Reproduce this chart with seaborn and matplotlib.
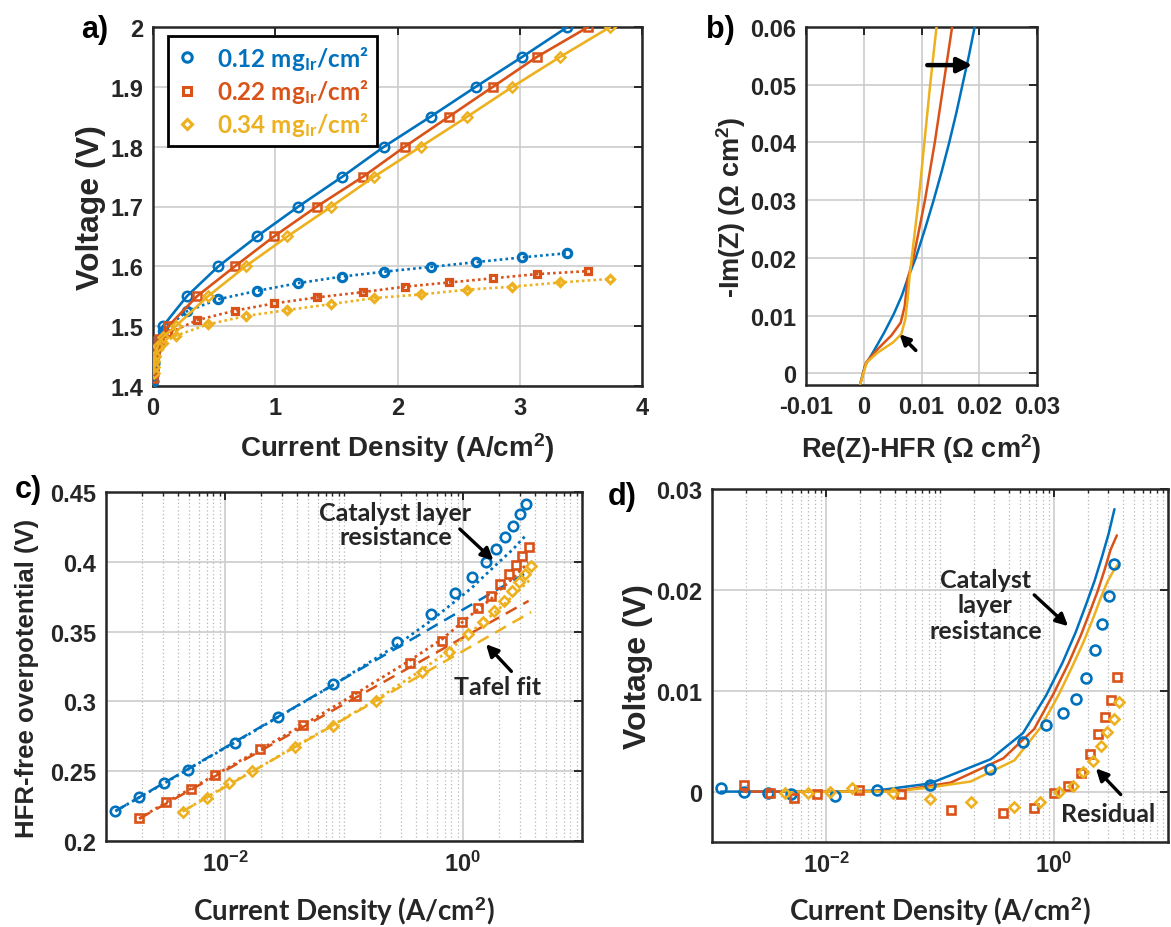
import matplotlib
matplotlib.use("Agg")
import matplotlib.pyplot as plt
import seaborn as sns
import pandas as pd
from matplotlib.lines import Line2D
from matplotlib.ticker import FixedLocator, FixedFormatter, LogLocator, NullFormatter

# ------------------------------------------------------------------ data
loadings = ["0.12", "0.22", "0.34"]
colors = ["#0072BD", "#D95319", "#EDB120"]
markers = ["o", "s", "D"]

# current densities (A/cm2), shared by panels a, c, d
j_012 = [0.0012, 0.0019, 0.0031, 0.0049, 0.0121, 0.0278, 0.0815, 0.277, 0.535,
         0.85, 1.19, 1.55, 1.89, 2.27, 2.64, 3.02, 3.39]
j_022 = [0.0019, 0.0032, 0.0052, 0.0083, 0.0196, 0.0455, 0.125, 0.36, 0.67,
         0.99, 1.34, 1.72, 2.06, 2.42, 2.78, 3.14, 3.56]
j_034 = [0.0044, 0.007, 0.0109, 0.0168, 0.0385, 0.081, 0.186, 0.45, 0.757,
         1.1, 1.46, 1.81, 2.19, 2.57, 2.94, 3.33, 3.74]

# panel a: cell voltage (solid) and lower curves (dotted)
v_cell_012 = [1.409, 1.418, 1.428, 1.438, 1.457, 1.476, 1.50, 1.55, 1.60, 1.65,
              1.70, 1.75, 1.80, 1.85, 1.90, 1.95, 2.00]
v_cell_022 = [1.413, 1.424, 1.433, 1.443, 1.462, 1.479, 1.50, 1.55, 1.60, 1.65,
              1.70, 1.75, 1.80, 1.85, 1.90, 1.95, 2.00]
v_cell_034 = [1.421, 1.431, 1.441, 1.450, 1.467, 1.482, 1.50, 1.55, 1.60, 1.65,
              1.70, 1.75, 1.80, 1.85, 1.90, 1.95, 2.00]
v_dot_012 = [1.409, 1.418, 1.428, 1.437, 1.455, 1.472, 1.492, 1.525, 1.545, 1.559,
             1.572, 1.583, 1.591, 1.599, 1.607, 1.615, 1.622]
v_dot_022 = [1.413, 1.424, 1.433, 1.442, 1.460, 1.474, 1.488, 1.510, 1.526, 1.538,
             1.548, 1.557, 1.566, 1.573, 1.580, 1.587, 1.592]
v_dot_034 = [1.421, 1.431, 1.440, 1.449, 1.462, 1.472, 1.484, 1.503, 1.517, 1.527,
             1.537, 1.547, 1.553, 1.561, 1.566, 1.573, 1.579]

# panel b: impedance (Re(Z)-HFR, -Im(Z))
re_012 = [-0.0006, 0.0002, 0.0018, 0.0035, 0.0052, 0.0066, 0.0076, 0.0090, 0.0106,
          0.0121, 0.0135, 0.0148, 0.0160, 0.0171, 0.0182, 0.0192]
im_012 = [-0.0018, 0.0013, 0.0040, 0.0070, 0.0103, 0.0135, 0.0164, 0.0200, 0.0250,
          0.0300, 0.0350, 0.0400, 0.0450, 0.0500, 0.0550, 0.0600]
re_022 = [-0.0006, 0.0004, 0.0024, 0.0048, 0.0064, 0.0071, 0.0076, 0.0086, 0.0106, 0.0123, 0.0138, 0.0153]
im_022 = [-0.0018, 0.0019, 0.0042, 0.0066, 0.0088, 0.0117, 0.0164, 0.0200, 0.0300, 0.0400, 0.0500, 0.0600]
re_034 = [-0.0006, 0.0005, 0.0024, 0.0051, 0.0065, 0.0072, 0.0076, 0.0079, 0.0083, 0.0095, 0.0105, 0.0115, 0.0126]
im_034 = [-0.0018, 0.0019, 0.0036, 0.0054, 0.0068, 0.0094, 0.0129, 0.0164, 0.0200, 0.0300, 0.0400, 0.0500, 0.0600]

# panel c: HFR-free overpotential (markers), model with CL resistance (dotted), Tafel fit (dashed)
eta_012 = [0.2217, 0.2312, 0.2412, 0.2512, 0.2702, 0.2888, 0.3126, 0.3424, 0.3626,
           0.3780, 0.3893, 0.4000, 0.4090, 0.4180, 0.4257, 0.4340, 0.4417]
eta_022 = [0.2167, 0.2276, 0.2369, 0.2471, 0.2657, 0.2829, 0.3036, 0.3274, 0.3431,
           0.3567, 0.3667, 0.3752, 0.3838, 0.3912, 0.3976, 0.4043, 0.4107]
eta_034 = [0.2210, 0.2310, 0.2412, 0.2500, 0.2674, 0.2824, 0.3002, 0.3210, 0.3352,
           0.3483, 0.3567, 0.3650, 0.3721, 0.3793, 0.3852, 0.3912, 0.3967]
model_012 = [0.2214, 0.2312, 0.2414, 0.2514, 0.2706, 0.2886, 0.3119, 0.3402, 0.3577,
             0.3714, 0.3815, 0.3908, 0.3977, 0.4040, 0.4091, 0.4146, 0.4191]
model_022 = [0.2160, 0.2278, 0.2376, 0.2474, 0.2655, 0.2832, 0.3054, 0.3295, 0.3447,
             0.3569, 0.3661, 0.3734, 0.3801, 0.3855, 0.3902, 0.3952, 0.3993]
model_034 = [0.2212, 0.2312, 0.2412, 0.2496, 0.2676, 0.2831, 0.3012, 0.3225, 0.3362,
             0.3483, 0.3561, 0.3631, 0.3691, 0.3748, 0.3793, 0.3840, 0.3878]
tafel_j_012, tafel_eta_012 = [0.0012, 3.39], [0.2214, 0.3920]
tafel_j_022, tafel_eta_022 = [0.0019, 3.56], [0.2160, 0.3720]
tafel_j_034, tafel_eta_034 = [0.0044, 3.74], [0.2212, 0.3640]

# panel d: residual (markers) and catalyst-layer-resistance contribution (lines)
resid_012 = [0.00033, 0.0, -0.00017, -0.0002, -0.00043, 0.00017, 0.00066, 0.0022, 0.0049,
             0.0066, 0.0078, 0.0092, 0.0113, 0.0140, 0.0166, 0.0194, 0.0226]
resid_022 = [0.00066, -0.00017, -0.00066, -0.00026, 0.00017, -0.00026, -0.0018, -0.0021, -0.0016,
             -0.00017, 0.0006, 0.0018, 0.0037, 0.0057, 0.0074, 0.0091, 0.0114]
resid_034 = [-0.00017, -0.00017, 0.0, 0.0004, -0.00017, -0.0007, -0.0010, -0.0015, -0.0010,
             0.0, 0.0006, 0.0019, 0.0030, 0.0045, 0.0059, 0.0072, 0.0089]
clr_012 = [0.0, 0.0, 0.0, 0.0, 0.0, 0.0001, 0.0008, 0.0032, 0.0058,
           0.0095, 0.0128, 0.0158, 0.0184, 0.0209, 0.0233, 0.0256, 0.0280]
clr_022 = [0.0, 0.0, 0.0, 0.0, 0.0, 0.0001, 0.0009, 0.0033, 0.0062,
           0.0097, 0.0127, 0.0155, 0.0178, 0.0199, 0.0220, 0.0240, 0.0254]
clr_034 = [0.0, 0.0, 0.0, 0.0, 0.0, 0.0004, 0.0010, 0.0031, 0.0063,
           0.0096, 0.0125, 0.0148, 0.0171, 0.0192, 0.0208, 0.0219, 0.0227]

# tick labels
a_xticks, a_xlabels = [0, 1, 2, 3, 4], ["0", "1", "2", "3", "4"]
a_yticks, a_ylabels = [1.4, 1.5, 1.6, 1.7, 1.8, 1.9, 2.0], ["1.4", "1.5", "1.6", "1.7", "1.8", "1.9", "2"]
b_xticks, b_xlabels = [-0.01, 0, 0.01, 0.02, 0.03], ["-0.01", "0", "0.01", "0.02", "0.03"]
b_yticks, b_ylabels = [0, 0.01, 0.02, 0.03, 0.04, 0.05, 0.06], ["0", "0.01", "0.02", "0.03", "0.04", "0.05", "0.06"]
log_xticks, log_xlabels = [1e-2, 1e0], ["10$^{-2}$", "10$^{0}$"]
c_yticks, c_ylabels = [0.2, 0.25, 0.3, 0.35, 0.4, 0.45], ["0.2", "0.25", "0.3", "0.35", "0.4", "0.45"]
d_yticks, d_ylabels = [0, 0.01, 0.02, 0.03], ["0", "0.01", "0.02", "0.03"]

# ------------------------------------------------------------------ style
sns.set_theme(style="white")
plt.rcParams.update({
    "font.weight": "bold",
    "axes.labelweight": "bold",
    "axes.linewidth": 1.8,
    "axes.edgecolor": "#262626",
    "mathtext.fontset": "custom",
    "mathtext.rm": "Liberation Sans:bold",
    "mathtext.it": "Liberation Sans:bold:italic",
    "mathtext.bf": "Liberation Sans:bold",
    "mathtext.sf": "Liberation Sans:bold",
})
plt.rcParams["font.family"] = ["Liberation Sans", "DejaVu Sans"]
ANN = ["Lato", "DejaVu Sans"]
TXT = "#262626"

W, H = 1171, 928
fig = plt.figure(figsize=(W / 100, H / 100), dpi=100)


def add_axes(l, r, t, b):
    return fig.add_axes([l / W, 1 - b / H, (r - l) / W, (b - t) / H])


def draw(ax, x, y, color, ls="-", lw=1.8, marker=None, ms=6.5, mew=1.8, z=3):
    df = pd.DataFrame({"x": x, "y": y})
    kw = dict(color=color, linestyle=ls, linewidth=lw, zorder=z)
    if marker is not None:
        kw.update(marker=marker, markersize=ms, markerfacecolor="none",
                  markeredgecolor=color, markeredgewidth=mew)
    sns.lineplot(data=df, x="x", y="y", ax=ax, sort=False, estimator=None,
                 errorbar=None, legend=False, **kw)


def style_axes(ax):
    ax.set_axisbelow(True)
    ax.tick_params(which="major", direction="in", length=6, width=1.4,
                   top=True, right=True, labelsize=17, pad=7, colors=TXT)
    ax.tick_params(which="minor", direction="in", length=3, width=1.0,
                   top=True, right=True)
    for lab in ax.get_xticklabels() + ax.get_yticklabels():
        lab.set_fontweight("bold")
        lab.set_color(TXT)
    for s in ax.spines.values():
        s.set_visible(True)
        s.set_linewidth(1.8)
        s.set_color(TXT)


def labels(ax, xl, yl, xsize, ysize, xy, yx, xfam=None, ypos=0.5):
    kx = dict(fontsize=xsize, fontweight="bold", color=TXT)
    if xfam:
        kx["family"] = xfam
    ax.set_xlabel(xl, **kx)
    ax.set_ylabel(yl, fontsize=ysize, fontweight="bold", color=TXT)
    ax.xaxis.set_label_coords(0.5, xy)
    ax.xaxis.label.set_va("center")
    ax.yaxis.set_label_coords(yx, ypos)
    ax.yaxis.label.set_va("center")


def arrow(ax, tail, tip, lw=2.4, ms=18):
    ax.annotate("", xy=tip, xytext=tail,
                arrowprops=dict(arrowstyle="-|>", lw=lw, color="black",
                                mutation_scale=ms, shrinkA=0, shrinkB=0), zorder=6)


grid_major = dict(color="#cccccc", linewidth=1.2, linestyle="-")
grid_minor = dict(color="#b8b8b8", linewidth=0.9, linestyle=(0, (1, 2)))

js = [j_012, j_022, j_034]
msz = [6.8, 5.8, 5.2]

# ------------------------------------------------------------------ panel a
axa = add_axes(153, 642, 28, 387)
vc = [v_cell_012, v_cell_022, v_cell_034]
vd = [v_dot_012, v_dot_022, v_dot_034]
for i in range(3):
    draw(axa, js[i], vd[i], colors[i], ls=(0, (1, 1.2)), lw=1.9, marker=markers[i],
         ms=msz[i] - 0.8, mew=2.3, z=3)
    draw(axa, js[i], vc[i], colors[i], ls="-", lw=1.9, marker=markers[i],
         ms=msz[i], mew=1.8, z=4)
axa.set_xlim(0, 4)
axa.set_ylim(1.4, 2.0)
axa.xaxis.set_major_locator(FixedLocator(a_xticks))
axa.xaxis.set_major_formatter(FixedFormatter(a_xlabels))
axa.yaxis.set_major_locator(FixedLocator(a_yticks))
axa.yaxis.set_major_formatter(FixedFormatter(a_ylabels))
axa.grid(True, which="major", **grid_major)
style_axes(axa)
labels(axa, "Current Density (A/cm$^{2}$)", "Voltage (V)", 20, 23, -0.17, -0.126)

handles = [Line2D([], [], ls="none", marker=markers[i], ms=msz[i], mfc="none",
                  mec=colors[i], mew=2.2) for i in range(3)]
leg_labels = [f"{l} mg$_{{\\mathregular{{Ir}}}}$/cm²" for l in loadings]
leg = axa.legend(handles, leg_labels, loc="upper left",
                 bbox_to_anchor=((168 - 153) / 489, (387 - 37) / 359),
                 borderaxespad=0, frameon=True, fancybox=False, edgecolor="black",
                 framealpha=1, handlelength=0.9, handletextpad=0.8, borderpad=0.32,
                 labelspacing=0.22, prop=dict(family=ANN, weight="bold", size=17.5))
leg.get_frame().set_linewidth(2.0)
for t, c in zip(leg.get_texts(), colors):
    t.set_color(c)

# ------------------------------------------------------------------ panel b
axb = add_axes(806, 1037, 28, 386)
res = [re_012, re_022, re_034]
ims = [im_012, im_022, im_034]
for i in range(3):
    draw(axb, res[i], ims[i], colors[i], ls="-", lw=1.8, z=3 + i)
axb.set_xlim(-0.01, 0.03)
axb.set_ylim(-0.002, 0.06)
axb.xaxis.set_major_locator(FixedLocator(b_xticks))
axb.xaxis.set_major_formatter(FixedFormatter(b_xlabels))
axb.yaxis.set_major_locator(FixedLocator(b_yticks))
axb.yaxis.set_major_formatter(FixedFormatter(b_ylabels))
axb.grid(True, which="major", **grid_major)
style_axes(axb)
labels(axb, "Re(Z)-HFR (Ω cm$^{2}$)", "-Im(Z) (Ω cm$^{2}$)", 19.5, 19.5, -0.175, -0.325)
arrow(axb, (0.0110, 0.0534), (0.0188, 0.0534), lw=3.2, ms=22)
arrow(axb, (0.0090, 0.0040), (0.0062, 0.0068), lw=2.6, ms=15)

# ------------------------------------------------------------------ panel c
axc = add_axes(106, 582, 493, 842)
axc.set_xscale("log")
etas = [eta_012, eta_022, eta_034]
mods = [model_012, model_022, model_034]
tj = [tafel_j_012, tafel_j_022, tafel_j_034]
te = [tafel_eta_012, tafel_eta_022, tafel_eta_034]
for i in range(3):
    draw(axc, tj[i], te[i], colors[i], ls=(0, (5, 3)), lw=1.8, z=3)
    draw(axc, js[i], mods[i], colors[i], ls=(0, (1, 1.3)), lw=2.0, z=3)
    draw(axc, js[i], etas[i], colors[i], ls="none", marker=markers[i],
         ms=msz[i], mew=1.9, z=4)
axc.set_xlim(1e-3, 1e1)
axc.set_ylim(0.2, 0.45)
axc.xaxis.set_major_locator(FixedLocator(log_xticks))
axc.xaxis.set_major_formatter(FixedFormatter(log_xlabels))
axc.xaxis.set_minor_locator(LogLocator(base=10, subs=range(1, 10), numticks=30))
axc.xaxis.set_minor_formatter(NullFormatter())
axc.yaxis.set_major_locator(FixedLocator(c_yticks))
axc.yaxis.set_major_formatter(FixedFormatter(c_ylabels))
axc.grid(True, which="major", **grid_major)
axc.grid(True, which="minor", axis="x", **grid_minor)
style_axes(axc)
labels(axc, "Current Density (A/cm$^{2}$)", "HFR-free overpotential (V)", 20, 18.5,
       -0.2, -0.165, xfam=ANN, ypos=0.47)
axc.text(0.27, 0.4265, "Catalyst layer\nresistance", ha="center", va="center",
         family=ANN, fontsize=18, fontweight="bold", linespacing=1.05, zorder=7)
arrow(axc, (0.94, 0.4235), (1.80, 0.4010))
axc.text(1.95, 0.3105, "Tafel fit", ha="center", va="center",
         family=ANN, fontsize=18, fontweight="bold", zorder=7)
arrow(axc, (2.55, 0.3215), (1.56, 0.3410))

# ------------------------------------------------------------------ panel d
axd = add_axes(712, 1168, 490, 843)
axd.set_xscale("log")
resids = [resid_012, resid_022, resid_034]
clrs = [clr_012, clr_022, clr_034]
for i in range(3):
    draw(axd, js[i], clrs[i], colors[i], ls="-", lw=1.8, z=3)
for i in range(3):
    draw(axd, js[i], resids[i], colors[i], ls="none", marker=markers[i],
         ms=msz[i] + 0.3, mew=1.9, z=4)
axd.set_xlim(1e-3, 1e1)
axd.set_ylim(-0.005, 0.03)
axd.xaxis.set_major_locator(FixedLocator(log_xticks))
axd.xaxis.set_major_formatter(FixedFormatter(log_xlabels))
axd.xaxis.set_minor_locator(LogLocator(base=10, subs=range(1, 10), numticks=30))
axd.xaxis.set_minor_formatter(NullFormatter())
axd.yaxis.set_major_locator(FixedLocator(d_yticks))
axd.yaxis.set_major_formatter(FixedFormatter(d_ylabels))
axd.grid(True, which="major", **grid_major)
axd.grid(True, which="minor", axis="x", **grid_minor)
style_axes(axd)
labels(axd, "Current Density (A/cm$^{2}$)", "Voltage (V)", 20, 23, -0.195, -0.162, xfam=ANN)
axd.text(0.25, 0.0185, "Catalyst\nlayer\nresistance", ha="center", va="center",
         family=ANN, fontsize=18, fontweight="bold", linespacing=1.15, zorder=7)
arrow(axd, (0.67, 0.0195), (1.33, 0.0164))
axd.text(3.0, -0.0022, "Residual", ha="center", va="center",
         family=ANN, fontsize=18, fontweight="bold", zorder=7)
arrow(axd, (3.85, -0.0003), (2.33, 0.0023))

# ------------------------------------------------------------------ panel letters
for lab, (px, py) in zip(["a)", "b)", "c)", "d)"],
                         [(95, 30), (720, 30), (28, 490), (622, 497)]):
    fig.text(px / W, 1 - py / H, lab, ha="center", va="center",
             fontsize=22, fontweight="bold", color="black")

fig.savefig("out.png", dpi=100)
